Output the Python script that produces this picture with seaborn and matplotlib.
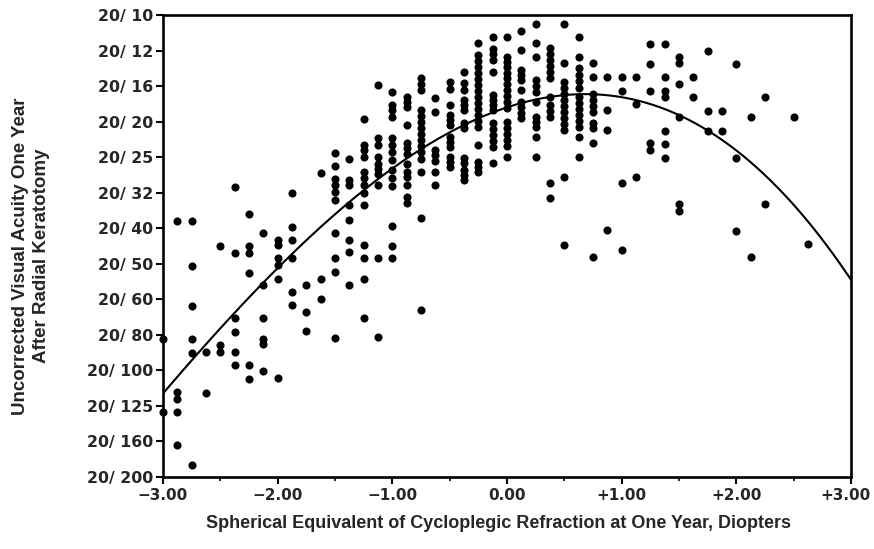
import numpy as np
import pandas as pd
import matplotlib
matplotlib.use("Agg")
import matplotlib.pyplot as plt
import matplotlib.transforms as mtransforms
import seaborn as sns

# ---- data: spherical equivalent (D) columns and logMAR acuity values
columns_x = [-3.0, -2.875, -2.75, -2.625, -2.5, -2.375, -2.25, -2.125, -2.0, -1.875,
             -1.75, -1.625, -1.5, -1.375, -1.25, -1.125, -1.0, -0.875, -0.75, -0.625,
             -0.5, -0.375, -0.25, -0.125, 0.0, 0.125, 0.25, 0.375, 0.5, 0.625,
             0.75, 0.875, 1.0, 1.125, 1.25, 1.375, 1.5, 1.625, 1.75, 1.875,
             2.0, 2.125, 2.25, 2.5, 2.625]
acuity_by_column = [
    [0.612, 0.817],
    [0.279, 0.761, 0.780, 0.817, 0.909],
    [0.279, 0.407, 0.518, 0.612, 0.651, 0.965],
    [0.648, 0.763],
    [0.351, 0.628, 0.647],
    [0.184, 0.370, 0.554, 0.592, 0.648, 0.686],
    [0.259, 0.351, 0.370, 0.426, 0.686, 0.723],
    [0.313, 0.461, 0.554, 0.611, 0.627, 0.703],
    [0.332, 0.348, 0.385, 0.404, 0.442, 0.722],
    [0.201, 0.296, 0.332, 0.385, 0.479, 0.517],
    [0.461, 0.536, 0.589],
    [0.144, 0.442, 0.498],
    [0.088, 0.125, 0.162, 0.179, 0.198, 0.221, 0.313, 0.385, 0.423, 0.609],
    [0.106, 0.163, 0.179, 0.235, 0.276, 0.332, 0.367, 0.461],
    [-0.006, 0.066, 0.080, 0.099, 0.141, 0.160, 0.179, 0.201, 0.235, 0.348, 0.385, 0.442, 0.553],
    [-0.103, 0.047, 0.066, 0.099, 0.118, 0.132, 0.146, 0.179, 0.385, 0.606],
    [-0.084, -0.046, -0.032, -0.014, 0.046, 0.066, 0.085, 0.108, 0.137, 0.159, 0.182, 0.294, 0.351, 0.385],
    [-0.070, -0.056, -0.042, 0.010, 0.061, 0.075, 0.090, 0.118, 0.141, 0.156, 0.179, 0.213, 0.230],
    [-0.123, -0.106, -0.089, -0.032, -0.015, 0.001, 0.018, 0.035, 0.052, 0.069, 0.086, 0.106, 0.141, 0.272, 0.531],
    [-0.066, -0.028, 0.080, 0.094, 0.111, 0.141, 0.179],
    [-0.111, -0.092, -0.046, -0.018, -0.004, 0.010, 0.043, 0.057, 0.071, 0.099, 0.113, 0.127],
    [-0.140, -0.108, -0.089, -0.061, -0.046, -0.032, 0.004, 0.018, 0.103, 0.117, 0.137, 0.151, 0.165],
    [-0.220, -0.187, -0.170, -0.154, -0.137, -0.120, -0.103, -0.086, -0.069, -0.052, -0.035, -0.018, -0.001, 0.015, 0.066, 0.113, 0.128, 0.142],
    [-0.238, -0.204, -0.190, -0.173, -0.139, -0.075, -0.061, -0.046, -0.032, 0.004, 0.021, 0.038, 0.055, 0.072, 0.117],
    [-0.239, -0.182, -0.168, -0.154, -0.137, -0.123, -0.106, -0.089, -0.072, -0.055, -0.038, 0.001, 0.018, 0.035, 0.052, 0.069, 0.100],
    [-0.255, -0.201, -0.145, -0.131, -0.117, -0.089, -0.055, -0.041, -0.024, -0.010],
    [-0.275, -0.221, -0.182, -0.117, -0.100, -0.083, -0.055, -0.013, 0.001, 0.015, 0.044, 0.100],
    [-0.207, -0.190, -0.173, -0.156, -0.139, -0.123, -0.069, -0.046, -0.030, -0.013, 0.173, 0.215],
    [-0.275, -0.165, -0.111, -0.094, -0.077, -0.061, -0.044, -0.027, -0.010, 0.007, 0.024, 0.156, 0.348],
    [-0.238, -0.182, -0.151, -0.131, -0.114, -0.094, -0.069, -0.052, -0.035, -0.018, -0.001, 0.015, 0.044, 0.100],
    [-0.165, -0.125, -0.077, -0.061, -0.044, -0.027, 0.004, 0.018, 0.061, 0.381],
    [-0.125, -0.032, 0.024, 0.306],
    [-0.125, -0.086, 0.173, 0.362],
    [-0.125, -0.049, 0.157],
    [-0.218, -0.162, -0.087, 0.061, 0.080],
    [-0.218, -0.125, -0.087, -0.068, 0.026, 0.063, 0.101],
    [-0.181, -0.164, -0.106, -0.012, 0.232, 0.251],
    [-0.125, -0.068],
    [-0.199, -0.030, 0.026],
    [-0.030, 0.026],
    [-0.162, 0.101, 0.308],
    [-0.012, 0.382],
    [-0.068, 0.232],
    [-0.012],
    [0.345],
]

# regression curve, sampled from the drawn fit line
fit_x = [-2.98, -2.0, -1.0, 0.0, 0.63, 0.98, 1.5, 2.0, 2.49, 2.98]
fit_y = [0.756, 0.413, 0.137, -0.041, -0.083, -0.075, -0.018, 0.086, 0.241, 0.427]

y_tick_values = [-0.3, -0.2, -0.1, 0.0, 0.1, 0.2, 0.3, 0.4, 0.5, 0.6, 0.7, 0.8, 0.9, 1.0]
y_tick_labels = ["20/ 10", "20/ 12", "20/ 16", "20/ 20", "20/ 25", "20/ 32", "20/ 40",
                 "20/ 50", "20/ 60", "20/ 80", "20/ 100", "20/ 125", "20/ 160", "20/ 200"]
x_tick_values = [-3, -2, -1, 0, 1, 2, 3]
x_tick_labels = ["\u22123.00", "\u22122.00", "\u22121.00", "0.00", "+1.00", "+2.00", "+3.00"]

xs, ys = [], []
for cx, vals in zip(columns_x, acuity_by_column):
    xs.extend([cx] * len(vals))
    ys.extend(vals)
df = pd.DataFrame({"sph": xs, "logmar": ys})

coef = np.polyfit(fit_x, fit_y, 3)
curve_x = np.linspace(-3, 3, 300)
curve_df = pd.DataFrame({"sph": curve_x, "logmar": np.polyval(coef, curve_x)})

sns.set_theme(style="white")
plt.rcParams["font.family"] = ["Liberation Sans", "DejaVu Sans"]

fig = plt.figure(figsize=(8.74, 5.49), dpi=100)
ax = fig.add_axes([163 / 874, 1 - 477 / 549, (851 - 163) / 874, (477 - 15) / 549])

sns.scatterplot(data=df, x="sph", y="logmar", ax=ax, color="black", s=34,
                edgecolor="black", linewidth=0, clip_on=False, zorder=3)
sns.lineplot(data=curve_df, x="sph", y="logmar", ax=ax, color="black", linewidth=1.5,
             zorder=2)

ytick_font = dict(family="DejaVu Sans", size=11.3, weight="bold")
xtick_font = dict(family="DejaVu Sans", size=11.0, weight="bold")
ax.set_xlim(-3, 3)
ax.set_ylim(1.0, -0.3)
ax.set_xticks(x_tick_values)
ax.set_xticklabels(x_tick_labels, fontdict=xtick_font)
ax.set_xticks(np.arange(-2.5, 3, 1.0), minor=True)
ax.set_yticks(y_tick_values)
ax.set_yticklabels(y_tick_labels, fontdict=ytick_font)
ax.tick_params(axis="both", which="major", direction="out", length=5, width=1.5,
               color="black", pad=2, bottom=True, left=True)
ax.tick_params(axis="x", which="major", pad=3)
ax.tick_params(axis="x", which="minor", direction="out", length=3, width=1.2,
               color="black", bottom=True)
# keep the last x label inside the canvas, as in the reference
last = ax.get_xticklabels()[-1]
last.set_transform(last.get_transform() +
                   mtransforms.ScaledTranslation(-5 / 100, 0, fig.dpi_scale_trans))
for sp in ax.spines.values():
    sp.set_color("black")
    sp.set_linewidth(1.9)

ax.set_xlabel("Spherical Equivalent of Cycloplegic Refraction at One Year, Diopters",
              fontsize=13, fontweight="bold")
ax.xaxis.label.set_va("center")
ax.xaxis.set_label_coords((499 - 163) / 688, (477 - 523) / 462)
ax.set_ylabel("Uncorrected Visual Acuity One Year\nAfter Radial Keratotomy",
              fontsize=13.5, fontweight="bold", linespacing=1.28)
ax.yaxis.label.set_va("center")
ax.yaxis.set_label_coords((31 - 163) / 688, (477 - 256) / 462)

fig.savefig("out.png", dpi=100, facecolor="white")
